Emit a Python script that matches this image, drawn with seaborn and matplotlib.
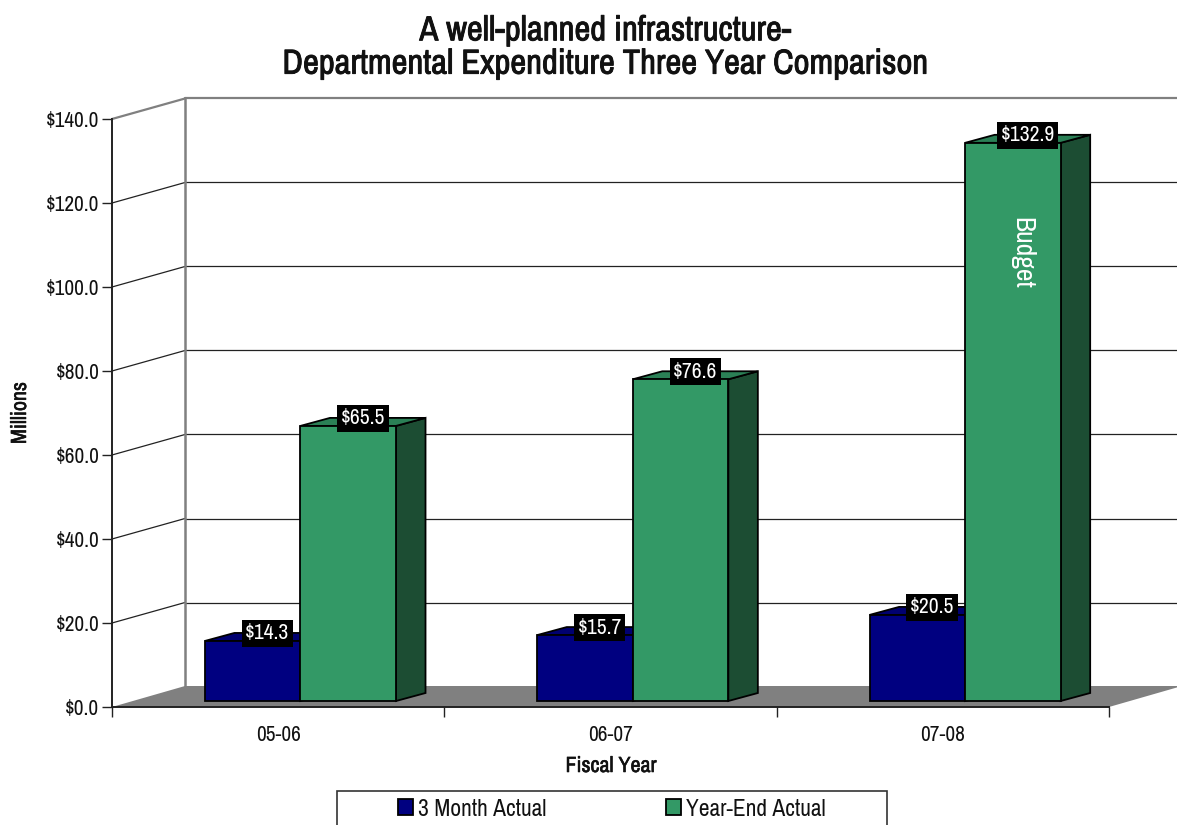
import matplotlib
matplotlib.use("Agg")
import matplotlib.pyplot as plt
import matplotlib.patheffects as pe
import pandas as pd
import seaborn as sns
from matplotlib.patches import Patch, Polygon, Rectangle
from matplotlib.transforms import Affine2D, IdentityTransform

W, H = 1177, 825
years = ["05-06", "06-07", "07-08"]
three_month = [14.3, 15.7, 20.5]
year_end = [65.5, 76.6, 132.9]
series_names = ["3 Month Actual", "Year-End Actual"]
y_ticks = [0, 20, 40, 60, 80, 100, 120, 140]
title_text = "A well-planned infrastructure-\nDepartmental Expenditure Three Year Comparison"

NAVY, GREEN, GREEN_SIDE, GREEN_TOP = "#000080", "#339966", "#1c4d33", "#2b8056"
NAVY_SIDE, NAVY_TOP = "#00004d", "#000070"

sns.set_theme(style="white")
plt.rcParams["font.family"] = ["Archivo Narrow", "Liberation Sans", "DejaVu Sans"]
TXT = "#111111"
PX = IdentityTransform()
EDGE = 1.3


def heavy(width):
    return [pe.withStroke(linewidth=width, foreground=TXT)]


df = pd.DataFrame({
    "Fiscal Year": years * 2,
    "Amount": three_month + year_end,
    "Series": [series_names[0]] * 3 + [series_names[1]] * 3,
})

fig = plt.figure(figsize=(W / 100, H / 100), dpi=100)
ax = fig.add_axes([112 / W, 118 / H, 997 / W, 588 / H], facecolor="none")

sns.barplot(data=df, x="Fiscal Year", y="Amount", hue="Series", hue_order=series_names,
            palette=[NAVY, GREEN], width=0.575, gap=0, dodge=True, saturation=1,
            edgecolor="black", linewidth=EDGE, legend=False, ax=ax, zorder=5)
ax.set_xlim(-0.5, 2.5)
ax.set_ylim(0, 140)
bars = list(ax.patches)

# pixel offsets of the pseudo-3D planes
back = ax.transData + Affine2D().translate(73, 20.5)
barplane = ax.transData + Affine2D().translate(22.3, 6)
DX, DY = 29.5, 8


def px(t, x, y):
    return t.transform((x, y))


# floor
p0, p1 = px(ax.transData, -0.5, 0), px(ax.transData, 2.5, 0)
ax.add_artist(Polygon([p0, p0 + (73, 21), p1 + (73, 21), p1], closed=True, transform=PX,
                      fc="#808080", ec="none", zorder=1, clip_on=False))

# back wall and side wall grid
for v in y_ticks[1:]:
    top = v == y_ticks[-1]
    col, lw = ("#808080", 1.6) if top else ("#222222", 0.9)
    ax.plot([-0.5, 2.5], [v, v], transform=back, color=col, lw=lw, clip_on=False, zorder=1)
    a = px(ax.transData, -0.5, v)
    ax.add_artist(plt.Line2D([a[0], a[0] + 73], [a[1], a[1] + 20.5], transform=PX,
                             color=col, lw=lw, zorder=1, clip_on=False))
ax.plot([-0.5, -0.5], [0, 140], transform=back, color="#808080", lw=1.8, clip_on=False, zorder=2)

# 3D bars: shift the front faces and add top / side faces
n = len(years)
for i, bar in enumerate(bars):
    bar.set_transform(barplane)
    bar.set_clip_on(False)
    x0, w, h = bar.get_x(), bar.get_width(), bar.get_height()
    side_col, top_col = (NAVY_SIDE, NAVY_TOP) if i < n else (GREEN_SIDE, GREEN_TOP)
    z = 3 if i < n else 4
    bar.set_zorder(z + 0.5)
    br = px(barplane, x0 + w, 0)
    tl, tr = px(barplane, x0, h), px(barplane, x0 + w, h)
    d = (DX, DY)
    ax.add_artist(Polygon([br, tr, tr + d, br + d], closed=True, transform=PX, fc=side_col,
                          ec="black", lw=EDGE, zorder=z, clip_on=False))
    ax.add_artist(Polygon([tl, tr, tr + d, tl + d], closed=True, transform=PX, fc=top_col,
                          ec="black", lw=EDGE, zorder=z, clip_on=False))
    c = px(barplane, x0 + w / 2, h)
    ax.text(c[0] + DX / 2, c[1] + DY / 2 + 3.5, f"${h:.1f}", transform=PX, color="white",
            fontsize=15.5, ha="center", va="center", zorder=8, clip_on=False,
            bbox=dict(fc="black", ec="none", pad=2.5))

# text written on the last bar
last = bars[-1]
ax.text(last.get_x() + last.get_width() / 2, 108, "Budget",
        transform=ax.transData + Affine2D().translate(31, 0), rotation=-90, color="white",
        fontsize=20, ha="center", va="center", zorder=8, clip_on=False)

# axes styling
sns.despine(ax=ax, top=True, right=True)
for s in ("left", "bottom"):
    ax.spines[s].set_color("#222222")
    ax.spines[s].set_linewidth(1.4)
    ax.spines[s].set_zorder(6)
ax.set_yticks(y_ticks)
ax.set_yticklabels([f"${v:.1f}" for v in y_ticks])
ax.tick_params(axis="y", left=True, length=7, width=1, color="#222222", pad=2,
               labelsize=15.3, labelcolor=TXT)
ax.set_xticks(range(len(years)))
ax.set_xticklabels(years)
ax.tick_params(axis="x", which="major", bottom=False, length=0, pad=13, labelsize=15.3, labelcolor=TXT)
ax.set_xticks([-0.5, 0.5, 1.5, 2.5], minor=True)
ax.tick_params(axis="x", which="minor", bottom=True, length=7.5, width=1, color="#222222")
ax.set_xlabel("")
ax.set_ylabel("")

fig.text(611 / W, 1 - 766 / H, "Fiscal Year", ha="center", va="center", fontsize=15.8,
         color=TXT, path_effects=heavy(0.4))
fig.text(20 / W, 1 - 413 / H, "Millions", ha="center", va="center", rotation=90,
         fontsize=15.8, color=TXT, path_effects=heavy(0.4))
fig.text(605.5 / W, 1 - 47 / H, title_text, ha="center", va="center", fontsize=25,
         color=TXT, linespacing=1.05, path_effects=heavy(0.65))

# legend
fig.add_artist(Rectangle((337 / W, -0.02), 550 / W, 1 - 791 / H + 0.02, transform=fig.transFigure,
                         fc="white", ec="#333333", lw=1.2))
handles = [Patch(fc=NAVY, ec="black", lw=1.3, label=series_names[0]),
           Patch(fc=GREEN, ec="black", lw=1.3, label=series_names[1])]
leg = fig.legend(handles=handles, ncol=2, frameon=False, loc="center left",
                 bbox_to_anchor=(398 / W, 1 - 809 / H), borderpad=0, borderaxespad=0,
                 fontsize=16.9, handlelength=0.64, handleheight=0.64, handletextpad=0.22,
                 columnspacing=5.1, labelcolor=TXT)

fig.savefig("out.png", dpi=100)
